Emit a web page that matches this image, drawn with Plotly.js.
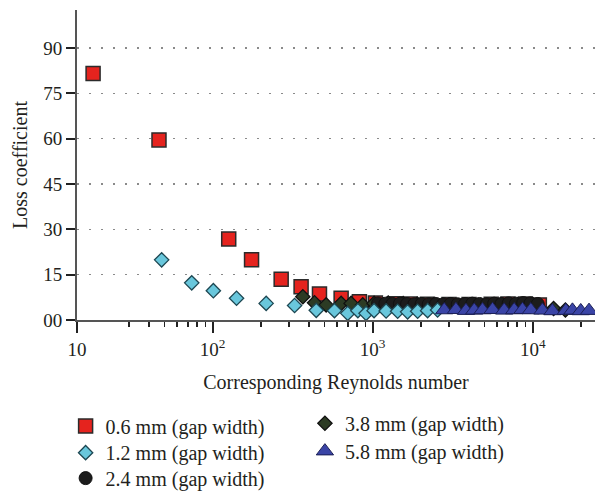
<!DOCTYPE html>
<html>
<head>
<meta charset="utf-8">
<script src="https://cdn.plot.ly/plotly-3.0.1.min.js"></script>
<style>html,body{margin:0;padding:0;background:#fff;}#chart{width:595px;height:491px;}</style>
</head>
<body>
<div id="chart"></div>
<script>
// Series: 0.6 mm (gap width)
const re06 = [17.9, 46.2, 126, 175, 268, 357, 465, 635, 826, 1040, 1365, 1700, 2200, 3000, 4000, 5500, 7000, 9000, 11000];
const k06  = [81.6, 59.6, 26.8, 19.9, 13.5, 11.0, 8.6, 7.2, 6.05, 5.6, 5.4, 5.3, 5.2, 5.1, 5.1, 5.2, 5.3, 5.3, 5.0];
// Series: 1.2 mm (gap width)
const re12 = [48, 74, 101, 141, 216, 325, 444, 577, 698, 808, 909, 1020, 1213, 1432, 1653, 1909, 2204, 2543];
const k12  = [19.9, 12.3, 9.7, 7.2, 5.5, 4.8, 3.2, 3.1, 2.2, 3.1, 2.2, 3.1, 3.0, 2.9, 2.7, 2.9, 3.1, 3.3];
// Series: 2.4 mm (gap width)
const re24 = [1080, 1200, 1330, 1480, 1640, 1820, 2020, 2240, 2490, 2760, 3070, 3400, 3780, 4190, 4650, 5170, 5740, 6370, 7070, 7850, 8720, 9680, 10750];
const k24  = [5.5, 5.4, 5.3, 5.4, 5.3, 5.2, 5.3, 5.2, 5.3, 5.2, 5.3, 5.2, 5.3, 5.4, 5.3, 5.2, 5.4, 5.3, 5.5, 5.4, 5.6, 5.5, 5.3];
// Series: 3.8 mm (gap width)
const re38 = [366, 433, 512, 635, 733, 867, 1020, 1250, 1550, 1900, 2400, 3000, 3800, 4700, 5800, 7200, 8800, 10800, 13500, 16000];
const k38  = [7.7, 5.7, 5.0, 5.5, 5.5, 5.0, 5.5, 5.6, 5.4, 5.3, 5.0, 4.9, 4.8, 4.7, 4.7, 4.6, 4.8, 4.5, 3.8, 3.3];
// Series: 5.8 mm (gap width)
const re58 = [2800, 3311, 3826, 4310, 4857, 5610, 6634, 7660, 8630, 9730, 11500, 13280, 16100, 17710, 19960, 22480];
const k58  = [3.3, 3.4, 3.1, 3.2, 3.3, 3.4, 3.2, 3.3, 3.4, 3.3, 3.2, 3.0, 3.1, 3.2, 3.0, 3.1];

const seriesNames = ['0.6 mm (gap width)', '1.2 mm (gap width)', '2.4 mm (gap width)', '3.8 mm (gap width)', '5.8 mm (gap width)'];

// Axis ticks
const xStart = 14.2, xEnd = 24500;
const xTickVals = [xStart, 100, 1000, 10000];
const xTickText = ['10', '10<sup>2</sup>', '10<sup>3</sup>', '10<sup>4</sup>'];
const xMinorVals = [30, 40, 50, 60, 70, 80, 90,
  200, 300, 400, 500, 600, 700, 800, 900,
  2000, 3000, 4000, 5000, 6000, 7000, 8000, 9000, 20000];
const yTickVals = [0, 15, 30, 45, 60, 75, 90];
const yTickText = ['00', '15', '30', '45', '60', '75', '90'];

const FONT = 'Liberation Serif, Times New Roman, serif';
const TXT = '#231f20';

function mk(x, y, name, legendId, marker) {
  return {x: x, y: y, name: name, legend: legendId, mode: 'markers', type: 'scatter', cliponaxis: false, marker: marker};
}

const t06 = mk(re06, k06, seriesNames[0], 'legend',
  {symbol: 'square', size: 14, color: '#e5231e', line: {color: '#2b2b2b', width: 1.5}});
const t12 = mk(re12, k12, seriesNames[1], 'legend2',
  {symbol: 'diamond', size: 11, color: '#69c7dc', line: {color: '#1d4752', width: 1.3}});
const t24 = mk(re24, k24, seriesNames[2], 'legend3',
  {symbol: 'circle', size: 13, color: '#1c1c1c', line: {color: '#111', width: 1}});
const t38 = mk(re38, k38, seriesNames[3], 'legend4',
  {symbol: 'diamond', size: 11, color: '#2c3b24', line: {color: '#111', width: 1.3}});
const t58 = mk(re58, k58, seriesNames[4], 'legend5',
  {symbol: 'triangle-up', size: 15, color: '#3a44a6', line: {color: '#1b1f55', width: 1}});

// drawing order (bottom to top)
const traces = [t06, t38, t24, t12, t58];

function leg(x, y) {
  return {x: x, y: y, xanchor: 'left', yanchor: 'middle', bgcolor: 'rgba(0,0,0,0)', borderwidth: 0,
          font: {family: FONT, size: 20, color: TXT}};
}

const layout = {
  width: 595, height: 491,
  margin: {l: 77, r: 0, t: 10, b: 171, autoexpand: false},
  paper_bgcolor: '#ffffff', plot_bgcolor: '#ffffff',
  font: {family: FONT, size: 19, color: TXT},
  showlegend: true,
  xaxis: {
    type: 'log', autorange: false,
    range: [Math.log10(xStart), Math.log10(xEnd)],
    tickmode: 'array', tickvals: xTickVals, ticktext: xTickText,
    ticks: 'outside', ticklen: 11, tickwidth: 2, tickcolor: '#222',
    tickfont: {family: FONT, size: 19, color: TXT},
    showline: true, linecolor: '#555', linewidth: 2,
    showgrid: false, zeroline: false,
    minor: {tickmode: 'array', tickvals: xMinorVals, ticks: 'outside', ticklen: 5, tickwidth: 1.5, tickcolor: '#222', showgrid: false},
    title: {text: 'Corresponding Reynolds number', font: {family: FONT, size: 20, color: TXT}, standoff: 16},
    automargin: false
  },
  yaxis: {
    autorange: false, range: [0, 102.6],
    tickmode: 'array', tickvals: yTickVals, ticktext: yTickText,
    ticks: 'outside', ticklen: 9, tickwidth: 2, tickcolor: '#222',
    tickfont: {family: FONT, size: 19, color: TXT},
    showline: true, linecolor: '#555', linewidth: 2,
    showgrid: true, gridcolor: '#8a8a8a', gridwidth: 1.5, griddash: '2px,10px',
    zeroline: false,
    title: {text: 'Loss coefficient', font: {family: FONT, size: 20, color: TXT}, standoff: 10},
    automargin: false
  },
  legend:  leg(-0.022, -0.342),
  legend2: leg(-0.022, -0.428),
  legend3: leg(-0.022, -0.510),
  legend4: leg(0.440, -0.333),
  legend5: leg(0.440, -0.423)
};

Plotly.newPlot('chart', traces, layout, {displayModeBar: false, staticPlot: true});
</script>
</body>
</html>
